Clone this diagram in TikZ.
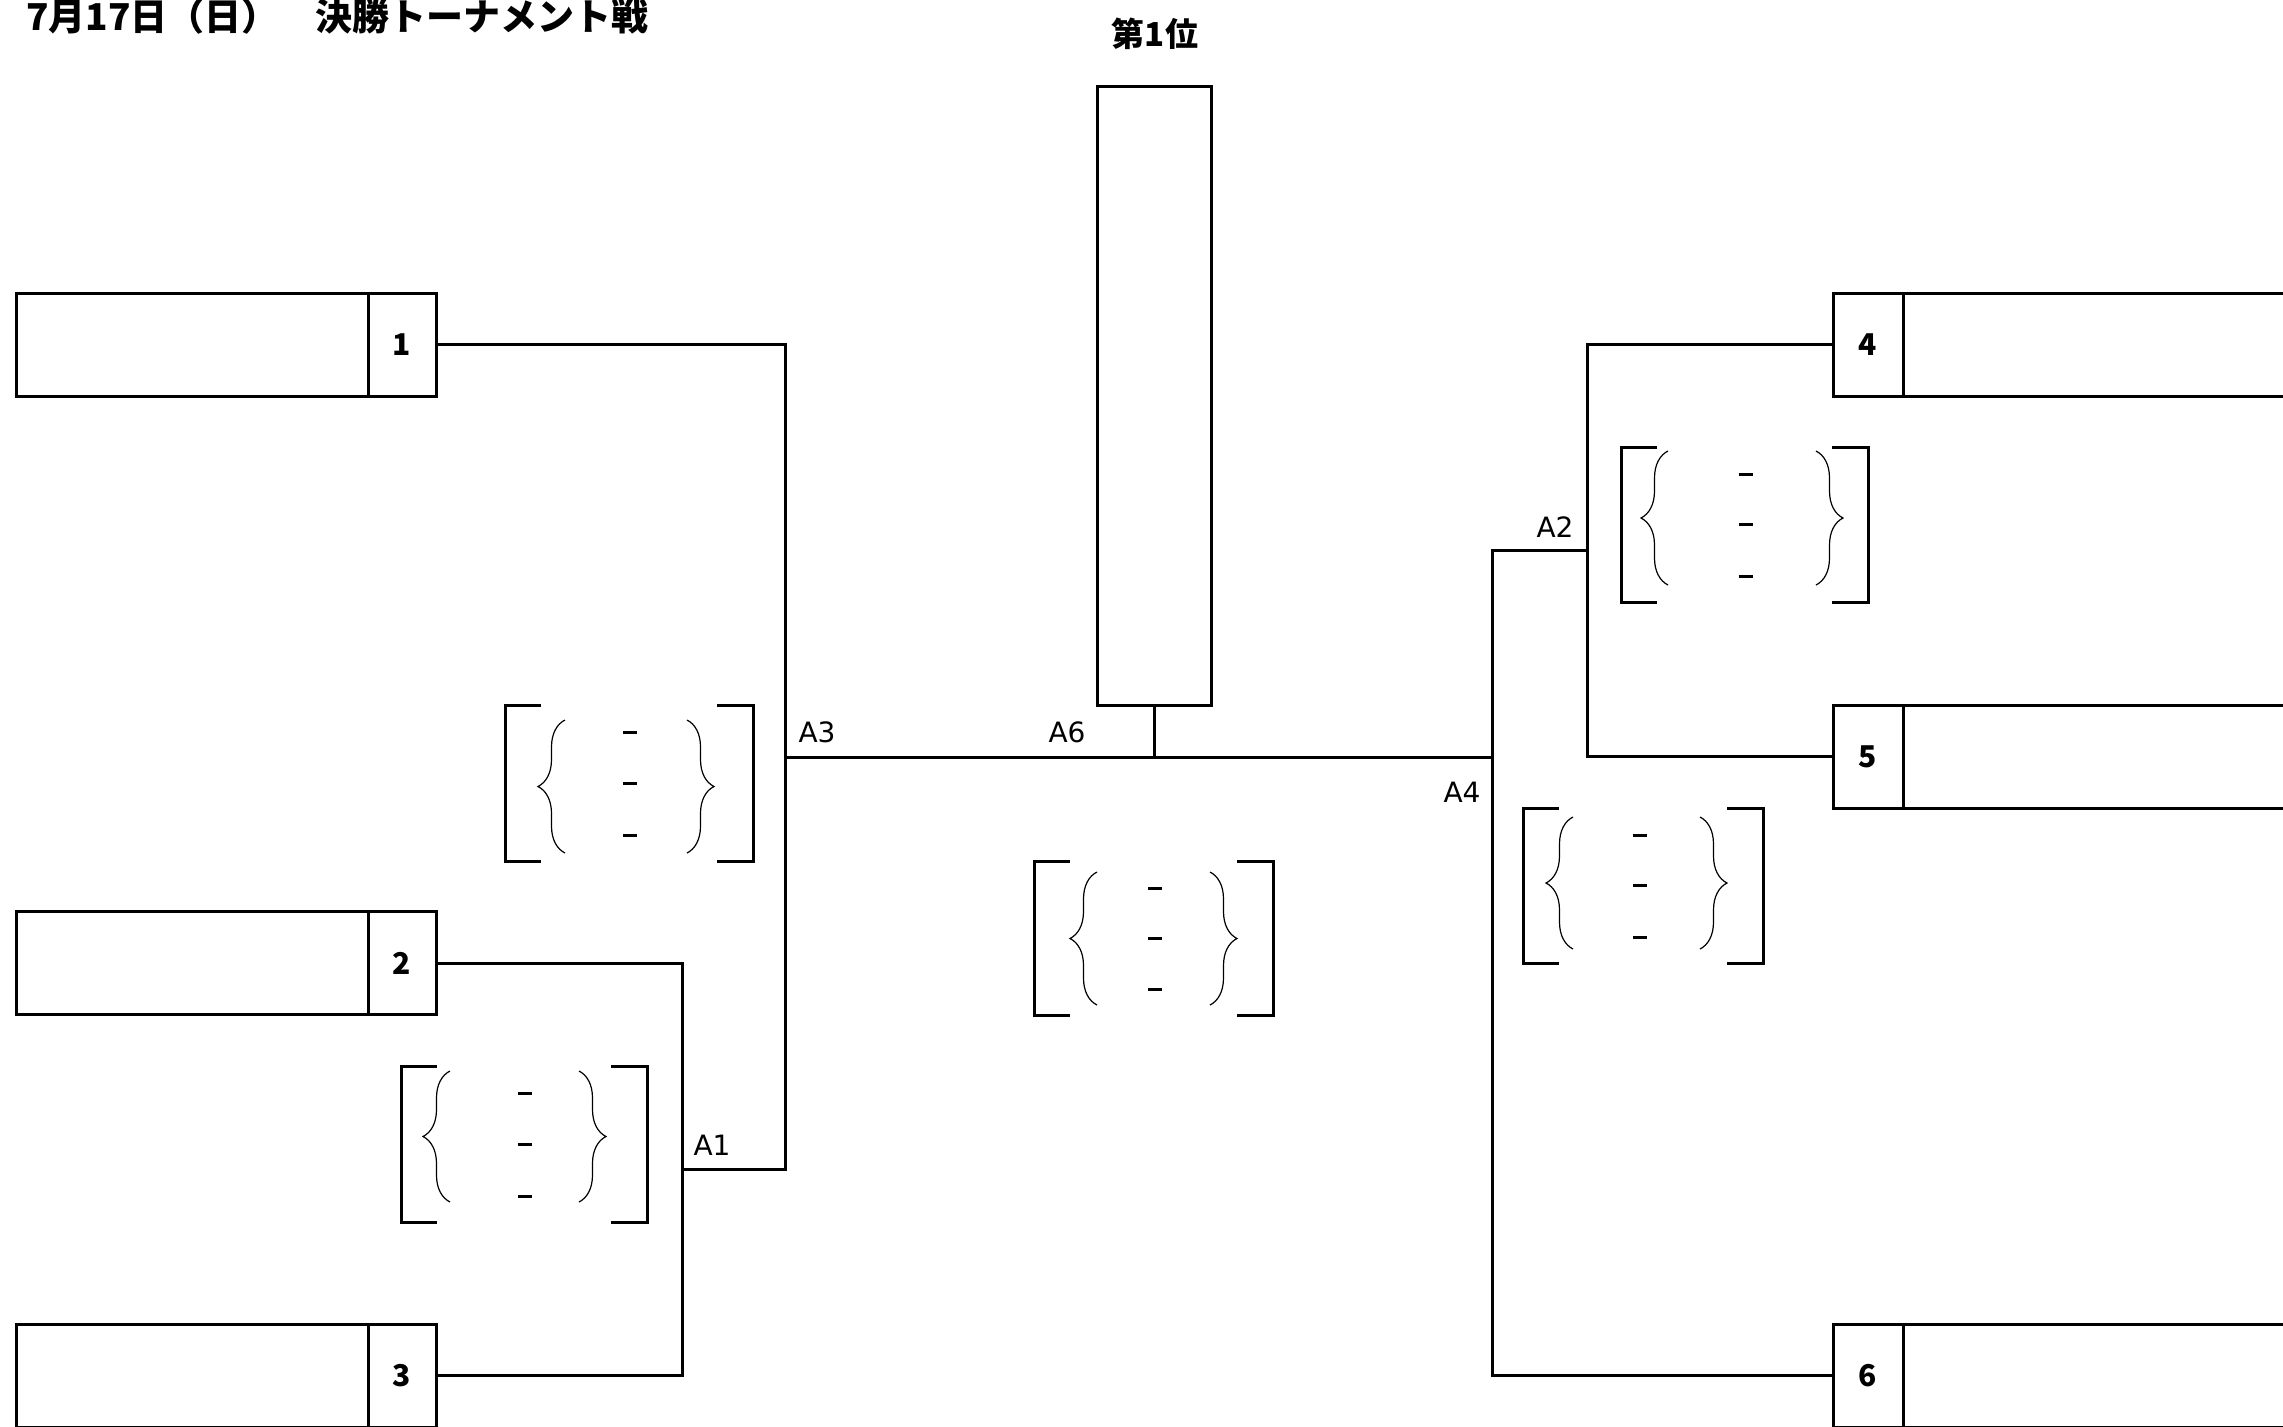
\documentclass[tikz,border=0pt]{standalone}
\usepackage{fontspec}
\newfontfamily\cjk{Noto Sans CJK JP}
\newfontfamily\labfont{DejaVu Sans}
\usetikzlibrary{decorations.pathreplacing}
\tikzset{
  ln/.style={line width=1.5pt},
  bk/.style={line width=1.5pt},
  brc/.style={decorate, decoration={brace, amplitude=13.5pt}, line width=0.6pt},
  cell/.style={draw, line width=1.5pt, minimum height=51.5pt, inner sep=0pt, outer sep=0pt},
  numcell/.style={cell, font=\cjk\bfseries\fontsize{15pt}{17pt}\selectfont},
  lab/.style={inner sep=0pt, font=\labfont\fontsize{14pt}{16pt}\selectfont},
}
\newcommand\scorebk[9]{%
  \draw[bk] (#1+36,#3) -- (#1,#3) -- (#1,#4) -- (#1+36,#4);
  \draw[bk] (#2-36,#3) -- (#2,#3) -- (#2,#4) -- (#2-36,#4);
  \draw[brc] (#5,#9) -- (#5,#8);
  \draw[brc] (#6,#8) -- (#6,#9);
  \draw[bk] (#7-7,#3+27) -- (#7+7,#3+27);
  \draw[bk] (#7-7,{(#3+#4)/2}) -- (#7+7,{(#3+#4)/2});
  \draw[bk] (#7-7,#4-26) -- (#7+7,#4-26);
}
\begin{document}
\begin{tikzpicture}[x=0.5pt, y=-0.5pt]
\useasboundingbox (0,0) rectangle (2283,1426);
\clip (0,0) rectangle (2283,1426);

% title
\node[anchor=base west, inner sep=0pt, font=\cjk\bfseries\fontsize{18.5pt}{20pt}\selectfont] (title) at (26,30) {7月17日（日）　決勝トーナメント戦};
\node[anchor=base, inner sep=0pt, font=\cjk\bfseries\fontsize{16.5pt}{18pt}\selectfont] (rank) at (1155,46) {第1位};

% left entries
\node[cell, minimum width=176pt] (n1) at (192,344.5) {};
\node[numcell, minimum width=34pt] (c1) at (402,344.5) {1};
\node[cell, minimum width=176pt] (n2) at (192,963) {};
\node[numcell, minimum width=34pt] (c2) at (402,963) {2};
\node[cell, minimum width=176pt] (n3) at (192,1375.5) {};
\node[numcell, minimum width=34pt] (c3) at (402,1375.5) {3};

% right entries
\node[numcell, minimum width=35pt] (c4) at (1868,344.5) {4};
\node[cell, minimum width=208.5pt] (n4) at (2111.5,344.5) {};
\node[numcell, minimum width=35pt] (c5) at (1868,756.5) {5};
\node[cell, minimum width=208.5pt] (n5) at (2111.5,756.5) {};
\node[numcell, minimum width=35pt] (c6) at (1868,1375.5) {6};
\node[cell, minimum width=208.5pt] (n6) at (2111.5,1375.5) {};

% winner box
\node[draw, line width=1.5pt, minimum width=57pt, minimum height=309.5pt, inner sep=0pt] (W) at (1154,395.5) {};

% junctions
\coordinate (a1) at (682,1169);
\coordinate (a3) at (785,757);
\coordinate (a4) at (1492,757);
\coordinate (a2) at (1587,550);
\coordinate (a6) at (1154,757);

\draw[ln] (c2.east) -| (a1) |- (c3.east);
\draw[ln] (c1.east) -| (a3) |- (a1);
\draw[ln] (a3) -- (a4);
\draw[ln] (c4.west) -| (a2) |- (c5.west);
\draw[ln] (a2) -| (a4) |- (c6.west);
\draw[ln] (W.south) -- (a6);

% labels
\node[lab] (l3) at (817,732) {A3};
\node[lab] (l6) at (1067,732) {A6};
\node[lab] (l4) at (1462,792) {A4};
\node[lab] (l2) at (1555,527) {A2};
\node[lab] (l1) at (712,1145) {A1};

% score brackets
\scorebk{505}{753}{705}{861}{565}{687}{630}{720}{853}
\scorebk{401}{647}{1066}{1222}{450}{579}{524.5}{1071}{1202}
\scorebk{1034}{1273}{861}{1015}{1097}{1210}{1155}{872}{1005}
\scorebk{1621}{1868}{447}{602}{1668}{1816}{1745.5}{451}{585}
\scorebk{1523}{1763}{808}{963}{1573}{1700}{1640}{817}{949}
\end{tikzpicture}
\end{document}
